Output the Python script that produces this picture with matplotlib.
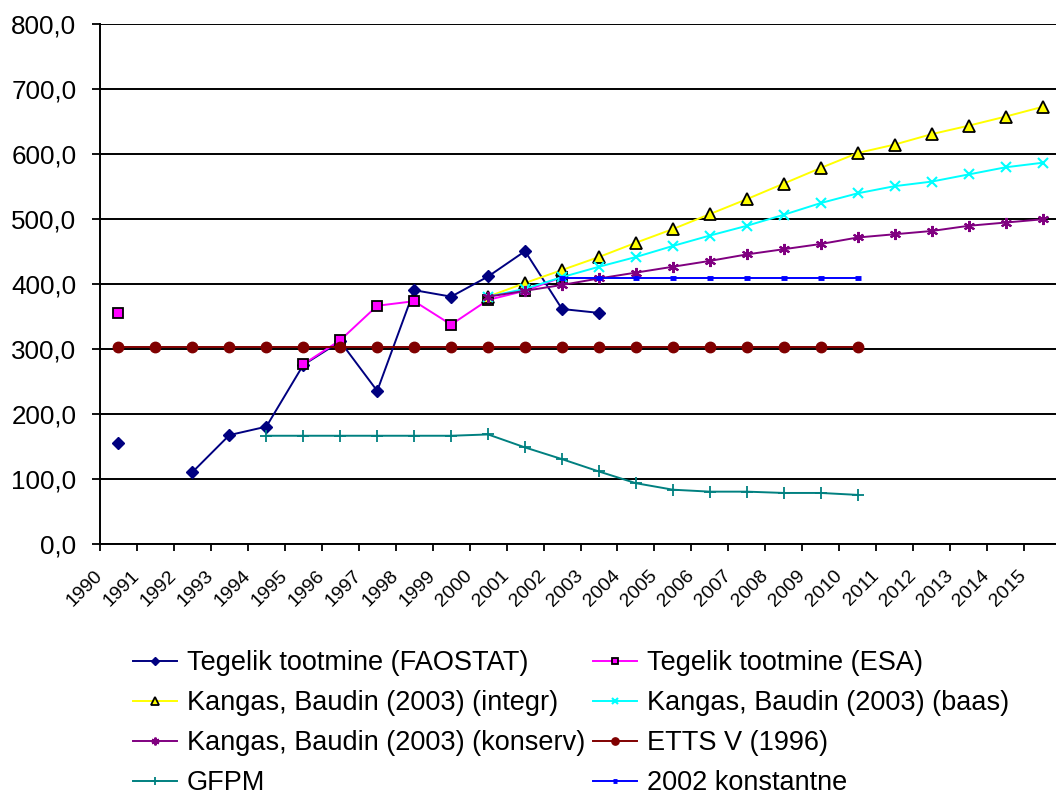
import matplotlib
matplotlib.use("Agg")
import matplotlib.pyplot as plt
import matplotlib.transforms as mtransforms
import numpy as np

plt.rcParams['font.family'] = ['Liberation Sans', 'DejaVu Sans']

years = list(range(1990, 2016))
nan = np.nan

faostat = [156, nan, 111, 168, 181, 276, 312, 236, 391, 381, 412, 451, 362, 356]
esa = [356, nan, nan, nan, nan, 277, 314, 367, 374, 338, 376, 390, 411]
kb_integr = [381, 402, 422, 442, 464, 485, 508, 531, 555, 579, 602, 615, 631, 644, 658, 673]
kb_baas = [381, 393, 411, 427, 442, 459, 475, 490, 507, 525, 540, 551, 558, 569, 580, 587]
kb_konserv = [381, 390, 399, 409, 418, 427, 436, 446, 454, 462, 472, 477, 482, 490, 495, 500]
etts = [304] * 21
gfpm = [167, 167, 167, 167, 167, 167, 169, 149, 131, 112, 94, 84, 81, 81, 79, 79, 76]
konst2002 = [410] * 9

# (values, first year, label, color, marker style)
series = [
    (faostat, 1990, "Tegelik tootmine (FAOSTAT)", "#000080",
     dict(marker='D', ms=6.5, mfc="#000080", mec="#000080")),
    (esa, 1990, "Tegelik tootmine (ESA)", "#FF00FF",
     dict(marker='s', ms=7, mfc="#FF00FF", mec="black", mew=1.3)),
    (kb_integr, 2000, "Kangas, Baudin (2003) (integr)", "#FFFF00",
     dict(marker='^', ms=8.5, mfc="#FFFF00", mec="black", mew=1.3)),
    (kb_baas, 2000, "Kangas, Baudin (2003) (baas)", "#00FFFF",
     dict(marker='x', ms=7, mec="#00FFFF", mew=1.5)),
    (kb_konserv, 2000, "Kangas, Baudin (2003) (konserv)", "#800080",
     dict(marker=(6, 2, 0), ms=8, mec="#800080", mew=1.5)),
    (etts, 1990, "ETTS V (1996)", "#800000",
     dict(marker='o', ms=7.5, mfc="#800000", mec="#800000")),
    (gfpm, 1994, "GFPM", "#008080",
     dict(marker='+', ms=8, mec="#008080", mew=1.3)),
    (konst2002, 2002, "2002 konstantne", "#0000FF",
     dict(marker='_', ms=5, mec="#0000FF", mew=3.5)),
]

fig = plt.figure(figsize=(10.56, 7.96), dpi=100)
ax = fig.add_axes([100 / 1056, 1 - 544.3 / 796, 961 / 1056, 520 / 796])

handles = {}
for k, (vals, start, label, color, mstyle) in enumerate(series):
    x = np.arange(len(vals)) + (start - 1990) + 0.5
    h, = ax.plot(x, vals, color=color, lw=1.4, label=label, zorder=3 + k, **mstyle)
    handles[label] = h

ax.set_xlim(0, 26)
ax.set_ylim(0, 800)
ax.set_yticks(np.arange(0, 801, 100))
ax.set_yticklabels([f"{v:.1f}".replace(".", ",") for v in np.arange(0, 801, 100)],
                   fontsize=18.7)
ax.set_xticks(np.arange(0, 26))
ax.set_xticklabels([str(y) for y in years], fontsize=14, rotation=45,
                   ha='right', va='center', rotation_mode='anchor')
shift = mtransforms.ScaledTranslation(4 / 100, 0, fig.dpi_scale_trans)
for lab in ax.get_xticklabels():
    lab.set_transform(lab.get_transform() + shift)
ax.tick_params(axis='y', direction='out', length=6, width=1.3, pad=11)
ax.tick_params(axis='x', direction='out', length=5, width=1.3, pad=16)
ax.yaxis.grid(True, color='black', lw=1.4)
ax.set_axisbelow(True)
for s in ['top', 'right']:
    ax.spines[s].set_visible(False)
for s in ['left', 'bottom']:
    ax.spines[s].set_linewidth(1.4)

order = [0, 2, 4, 6, 1, 3, 5, 7]
labs = [series[i][2] for i in order]
fig.legend([handles[l] for l in labs], labs, loc='upper left',
           bbox_to_anchor=(133 / 1056, 1 - 650 / 796), ncol=2, frameon=False,
           fontsize=19.5, handlelength=1.63, handletextpad=0.36, columnspacing=0.3,
           labelspacing=0.52, borderpad=0, borderaxespad=0, markerscale=0.7)

fig.savefig("out.png", dpi=100)
